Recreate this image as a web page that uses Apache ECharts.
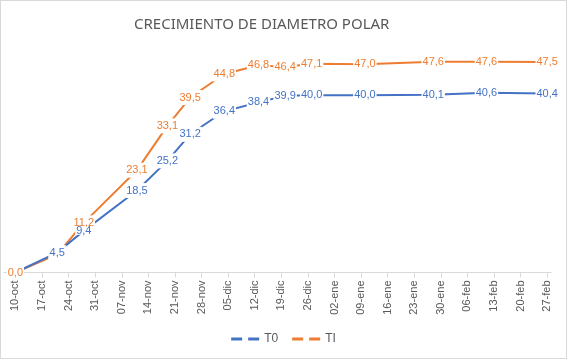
<!DOCTYPE html>
<html><head><meta charset="utf-8">
<script src="https://cdn.jsdelivr.net/npm/echarts@6/dist/echarts.min.js"></script>
<style>
html,body{margin:0;padding:0;background:#fff;}
#c{width:567px;height:359px;box-sizing:border-box;border:1px solid #d9d9d9;}
</style></head>
<body><div id="c"></div>
<script>
// Data
const pointDates = ['2022-10-10','2022-10-21','2022-10-28','2022-11-11','2022-11-19','2022-11-25','2022-12-04','2022-12-13','2022-12-20','2022-12-27','2023-01-10','2023-01-28','2023-02-11','2023-02-27'];
const t0Values = [0.0, 4.5, 9.4, 18.5, 25.2, 31.2, 36.4, 38.4, 39.9, 40.0, 40.0, 40.1, 40.6, 40.4];
const tiValues = [0.0, 4.1, 11.2, 23.1, 33.1, 39.5, 44.8, 46.8, 46.4, 47.1, 47.0, 47.6, 47.6, 47.5];
const tickLabels = ['10-oct','17-oct','24-oct','31-oct','07-nov','14-nov','21-nov','28-nov','05-dic','12-dic','19-dic','26-dic','02-ene','09-ene','16-ene','23-ene','30-ene','06-feb','13-feb','20-feb','27-feb'];
const tickStart = '2022-10-10';

const DAY = 86400000;
const ts = s => Date.parse(s + 'T00:00:00Z');
const tickValues = tickLabels.map((_, i) => ts(tickStart) + i * 7 * DAY);
const labelMap = {};
tickValues.forEach((v, i) => labelMap[v] = tickLabels[i]);

const fmt = v => v.toFixed(1).replace('.', ',');
// per-point label tweaks (style only): shared "0,0" label nudged inside, tight box where labels crowd
const mk = (vals, overrides) => pointDates.map((d, i) => overrides[i]
  ? { value: [ts(d), vals[i]], label: overrides[i] }
  : [ts(d), vals[i]]);

const chart = echarts.init(document.getElementById('c'));
const labelStyle = color => ({
  show: true, position: 'inside', color: color,
  fontFamily: 'Liberation Sans', fontSize: 11, lineHeight: 13,
  backgroundColor: '#fff', padding: [1, 1],
  formatter: p => fmt(p.value[1])
});
chart.setOption({
  animation: false,
  title: {
    text: 'CRECIMIENTO DE DIAMETRO POLAR',
    left: 128, top: 11,
    textStyle: { fontFamily: 'Noto Sans', fontWeight: 'normal', fontSize: 15, color: '#595959' }
  },
  legend: {
    bottom: 8, left: 'center',
    itemWidth: 28, itemHeight: 3, itemGap: 14,
    icon: 'path://M0,0h11v3h-11z M17,0h11v3h-11z',
    textStyle: { fontFamily: 'Liberation Sans', fontSize: 12, color: '#595959' },
    data: ['T0', 'TI']
  },
  grid: { left: 3, right: 15, top: 50, bottom: 85.5, containLabel: false },
  xAxis: {
    type: 'value',
    min: ts(tickStart) - 3 * DAY,
    max: ts('2023-02-28'),
    axisLine: { show: true, lineStyle: { color: '#d9d9d9' } },
    axisTick: { show: true, length: 5, lineStyle: { color: '#d9d9d9' }, customValues: tickValues },
    splitLine: { show: false },
    axisLabel: {
      customValues: tickValues,
      rotate: 90, margin: 8,
      fontFamily: 'Liberation Sans', fontSize: 11, color: '#595959',
      formatter: v => labelMap[v] || ''
    }
  },
  yAxis: {
    type: 'value', min: 0, max: 50,
    axisLine: { show: false }, axisTick: { show: false },
    axisLabel: { show: false }, splitLine: { show: false }
  },
  series: [
    { name: 'TI', type: 'line', data: mk(tiValues, { 0: { offset: [3, -5] } }), symbol: 'circle', symbolSize: 0.1, showSymbol: true,
      itemStyle: { color: '#ED7D31' }, lineStyle: { color: '#ED7D31', width: 2 },
      label: labelStyle('#ED7D31'), labelLayout: { hideOverlap: false } },
    { name: 'T0', type: 'line', data: mk(t0Values, { 0: { show: false }, 2: { lineHeight: 8, padding: [0, 1] } }), symbol: 'circle', symbolSize: 0.1, showSymbol: true,
      itemStyle: { color: '#4472C4' }, lineStyle: { color: '#4472C4', width: 2 },
      label: labelStyle('#4472C4'), labelLayout: { hideOverlap: false } }
  ]
});
</script></body></html>
